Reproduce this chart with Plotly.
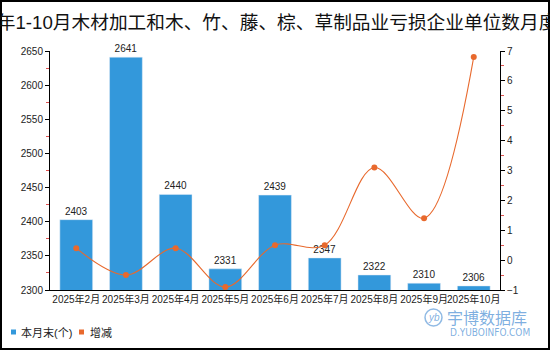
import plotly.graph_objects as go

months = ["2025年2月", "2025年3月", "2025年4月", "2025年5月", "2025年6月",
          "2025年7月", "2025年8月", "2025年9月", "2025年10月"]
counts = [2403, 2641, 2440, 2331, 2439, 2347, 2322, 2310, 2306]
changes = [0.4, -0.5, 0.4, -0.9, 0.5, 0.5, 3.1, 1.4, 6.8]

title_text = "2025年1-10月木材加工和木、竹、藤、棕、草制品业亏损企业单位数月度统计"
bar_name = "本月末(个)"
line_name = "增减"

BLUE = "#3398DB"
ORANGE = "#E8692D"
WM = "rgba(70,140,210,0.7)"
FONT = "Liberation Sans, Noto Sans CJK SC, sans-serif"
W, H = 550, 350
L, R, T, B = 50, 50, 51, 60
PW, PH = W - L - R, H - T - B


def px(x):
    return (x - L) / PW


def py(y):
    return (H - B - y) / PH


fig = go.Figure()
fig.add_trace(go.Bar(
    x=months, y=counts, name=bar_name, marker_color=BLUE, width=0.66,
    text=[str(v) for v in counts], textposition="outside",
    textfont=dict(size=10, color="#222", family=FONT), cliponaxis=False,
    showlegend=False,
))
fig.add_trace(go.Scatter(
    x=months, y=changes, name=line_name, yaxis="y2", mode="lines+markers",
    line=dict(color=ORANGE, width=1.1, shape="spline", smoothing=1.0),
    marker=dict(color=ORANGE, size=6), showlegend=False,
))

axis_common = dict(showgrid=False, zeroline=False, showline=True, linecolor="#000",
                   linewidth=1, ticks="outside", ticklen=4, tickcolor="#000",
                   tickfont=dict(size=10, color="#222", family=FONT))

fig.update_layout(
    width=W, height=H, margin=dict(l=L, r=R, t=T, b=B),
    paper_bgcolor="white", plot_bgcolor="white",
    font=dict(family=FONT, color="#222"),
    title=dict(text=title_text, x=0.5, xref="paper", xanchor="center",
               y=1 - 22 / H, yanchor="middle",
               font=dict(size=18.7, color="#111", family=FONT)),
    xaxis=dict(showgrid=False, showline=True, linecolor="#000", linewidth=1,
               ticks="", tickangle=0, tickfont=dict(size=10, color="#222", family=FONT)),
    yaxis=dict(range=[2300, 2650], dtick=50, tick0=2300,
               minor=dict(ticks="outside", ticklen=3, tickcolor="#e05050", dtick=25,
                          showgrid=False),
               **axis_common),
    yaxis2=dict(range=[-1, 7], dtick=1, tick0=-1, overlaying="y", side="right",
                minor=dict(ticks="outside", ticklen=3, tickcolor="#e05050", dtick=0.5,
                           showgrid=False),
                **axis_common),
    showlegend=False,
)

shapes = [
    # outer frame
    dict(type="rect", xref="paper", yref="paper", x0=px(1), x1=px(549), y0=py(349), y1=py(1),
         line=dict(color="#000", width=2), fillcolor="rgba(0,0,0,0)"),
    # legend squares
    dict(type="rect", xref="paper", yref="paper", x0=px(11), x1=px(16), y0=py(334.5), y1=py(329.5),
         line=dict(width=0), fillcolor=BLUE),
    dict(type="rect", xref="paper", yref="paper", x0=px(79), x1=px(84), y0=py(334.5), y1=py(329.5),
         line=dict(width=0), fillcolor=ORANGE),
    # watermark logo circle
    dict(type="circle", xref="paper", yref="paper", x0=px(425), x1=px(442), y0=py(326), y1=py(309),
         line=dict(color="rgba(70,140,210,0.6)", width=1.5), fillcolor="rgba(0,0,0,0)"),
]
fig.update_layout(shapes=shapes)

annotations = [
    dict(text=bar_name, x=px(19), y=py(332), xref="paper", yref="paper", xanchor="left",
         yanchor="middle", showarrow=False, font=dict(size=11, color="#222", family=FONT)),
    dict(text=line_name, x=px(88), y=py(332), xref="paper", yref="paper", xanchor="left",
         yanchor="middle", showarrow=False, font=dict(size=11, color="#222", family=FONT)),
    dict(text="<i>yb</i>", x=px(433.5), y=py(317.5), xref="paper", yref="paper", xanchor="center",
         yanchor="middle", showarrow=False,
         font=dict(size=10, color=WM, family=FONT)),
    dict(text="宇博数据库", x=px(445), y=py(316.5), xref="paper", yref="paper", xanchor="left",
         yanchor="middle", showarrow=False,
         font=dict(size=16, color=WM, family="Noto Sans CJK SC")),
    dict(text="D.YUBOINFO.COM", x=px(448), y=py(332.5), xref="paper", yref="paper", xanchor="left",
         yanchor="middle", showarrow=False,
         font=dict(size=10, color=WM, family="DejaVu Sans Condensed, Liberation Sans, sans-serif")),
]
fig.update_layout(annotations=annotations)

fig.write_html("out.html")
